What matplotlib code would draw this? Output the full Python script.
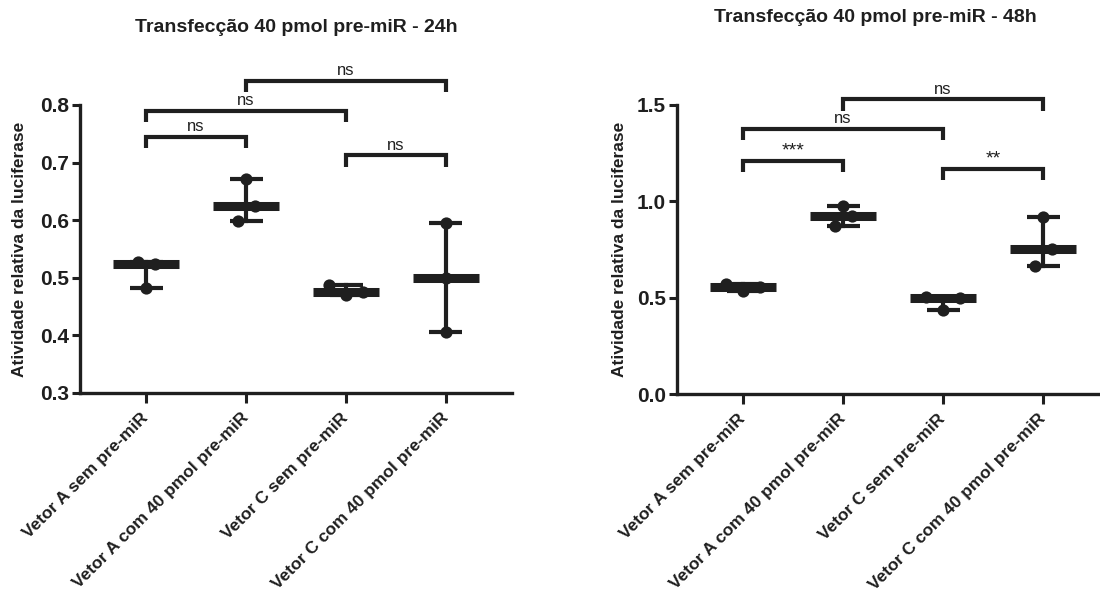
import numpy as np
import matplotlib
matplotlib.use("Agg")
import matplotlib.pyplot as plt

plt.rcParams['font.family'] = ['Liberation Sans', 'DejaVu Sans']
plt.rcParams['font.weight'] = 'bold'

INK = '#1f1f1f'

# grupos (eixo x)
grupos = ['Vetor A sem pre-miR', 'Vetor A com 40 pmol pre-miR',
          'Vetor C sem pre-miR', 'Vetor C com 40 pmol pre-miR']

# atividade relativa da luciferase, triplicatas
dados_24h = [[0.527, 0.524, 0.482],
             [0.598, 0.625, 0.672],
             [0.488, 0.470, 0.476],
             [0.406, 0.499, 0.595]]
dados_48h = [[0.569, 0.534, 0.555],
             [0.871, 0.922, 0.974],
             [0.503, 0.436, 0.500],
             [0.664, 0.753, 0.917]]

# comparações: (grupo1, grupo2, altura da barra, texto)
comp_24h = [(0, 1, 0.745, 'ns'), (0, 2, 0.790, 'ns'),
            (2, 3, 0.713, 'ns'), (1, 3, 0.842, 'ns')]
comp_48h = [(0, 1, 1.210, '***'), (0, 2, 1.376, 'ns'),
            (2, 3, 1.169, '**'), (1, 3, 1.529, 'ns')]

titulo_24h = 'Transfecção 40 pmol pre-miR - 24h'
titulo_48h = 'Transfecção 40 pmol pre-miR - 48h'
ylabel = 'Atividade relativa da luciferase'

W, H = 1100, 596
fig = plt.figure(figsize=(W / 100, H / 100), dpi=100)


def espalha(vals, limiar, passo):
    # pontos com valores próximos ficam na mesma "linha", centrados no grupo
    vals = np.asarray(vals)
    ordem = np.argsort(vals)
    offs = np.zeros(len(vals))
    i = 0
    while i < len(ordem):
        linha = [ordem[i]]
        j = i + 1
        while j < len(ordem) and vals[ordem[j]] - vals[ordem[i]] <= limiar:
            linha.append(ordem[j])
            j += 1
        linha.sort()
        n = len(linha)
        for k, idx in enumerate(linha):
            offs[idx] = (k - (n - 1) / 2) * passo
        i = j
    return offs


def painel(rect, lab_x, dados, comps, ylim, yticks, titulo, tpos):
    ax = fig.add_axes(rect)
    ax.set_xlim(-0.66, 3.66)
    ax.set_ylim(*ylim)
    span = ylim[1] - ylim[0]
    px_y = ax.bbox.height / span
    px_x = ax.bbox.width / 4.32

    for i, vals in enumerate(dados):
        offs = espalha(vals, 18 / px_y, 17 / px_x)
        ax.scatter(i + offs, vals, s=8.8 ** 2, color=INK, zorder=3, lw=0)
        med, lo, hi = np.median(vals), min(vals), max(vals)
        ax.plot([i, i], [lo, hi], color=INK, lw=3, zorder=4)
        for y in (lo, hi):
            ax.plot([i - 0.165, i + 0.165], [y, y], color=INK, lw=3,
                    solid_capstyle='butt', zorder=4)
        ax.plot([i - 0.33, i + 0.33], [med, med], color=INK, lw=6.5,
                solid_capstyle='butt', zorder=5)

    perna = 0.04 * span
    for a, b, h, txt in comps:
        ax.plot([a, a, b, b], [h - perna, h, h, h - perna], color=INK, lw=3,
                clip_on=False, solid_joinstyle='miter', solid_capstyle='butt')
        tam = 14 if '*' in txt else 12
        ax.annotate(txt, ((a + b) / 2, h), xytext=(0, 4),
                    textcoords='offset points', ha='center', va='baseline',
                    fontsize=tam, fontweight='normal', color=INK,
                    annotation_clip=False)

    for s in ('top', 'right'):
        ax.spines[s].set_visible(False)
    for s in ('left', 'bottom'):
        ax.spines[s].set_linewidth(2.4)
        ax.spines[s].set_color(INK)

    ax.set_yticks(yticks)
    ax.set_yticklabels(['{:.1f}'.format(v) for v in yticks], fontsize=15,
                       fontweight='bold', color=INK)
    ax.set_xticks(range(len(grupos)))
    ax.set_xticklabels(grupos, rotation=45, ha='right', va='center',
                       rotation_mode='anchor', fontsize=12.5,
                       fontweight='bold', color=INK)
    ax.tick_params(axis='y', length=6, width=2.2, color=INK, pad=2)
    ax.tick_params(axis='x', length=7, width=2.2, color=INK, pad=9)

    ax.set_ylabel(ylabel, fontsize=12.5, fontweight='bold', color=INK)
    ax.yaxis.set_label_coords(lab_x, 0.5)

    fig.text(tpos[0] / W, 1 - tpos[1] / H, titulo, ha='center', va='center',
             fontsize=14, fontweight='bold', color=INK)
    return ax


painel([80 / W, (H - 393) / H, 432 / W, 288 / H], -0.123,
       dados_24h, comp_24h, (0.3, 0.8), [0.3, 0.4, 0.5, 0.6, 0.7, 0.8],
       titulo_24h, (296, 28))
painel([677 / W, (H - 394) / H, 432 / W, 289 / H], -0.116,
       dados_48h, comp_48h, (0.0, 1.5), [0.0, 0.5, 1.0, 1.5],
       titulo_48h, (875, 18))

fig.savefig('out.png', dpi=100)
